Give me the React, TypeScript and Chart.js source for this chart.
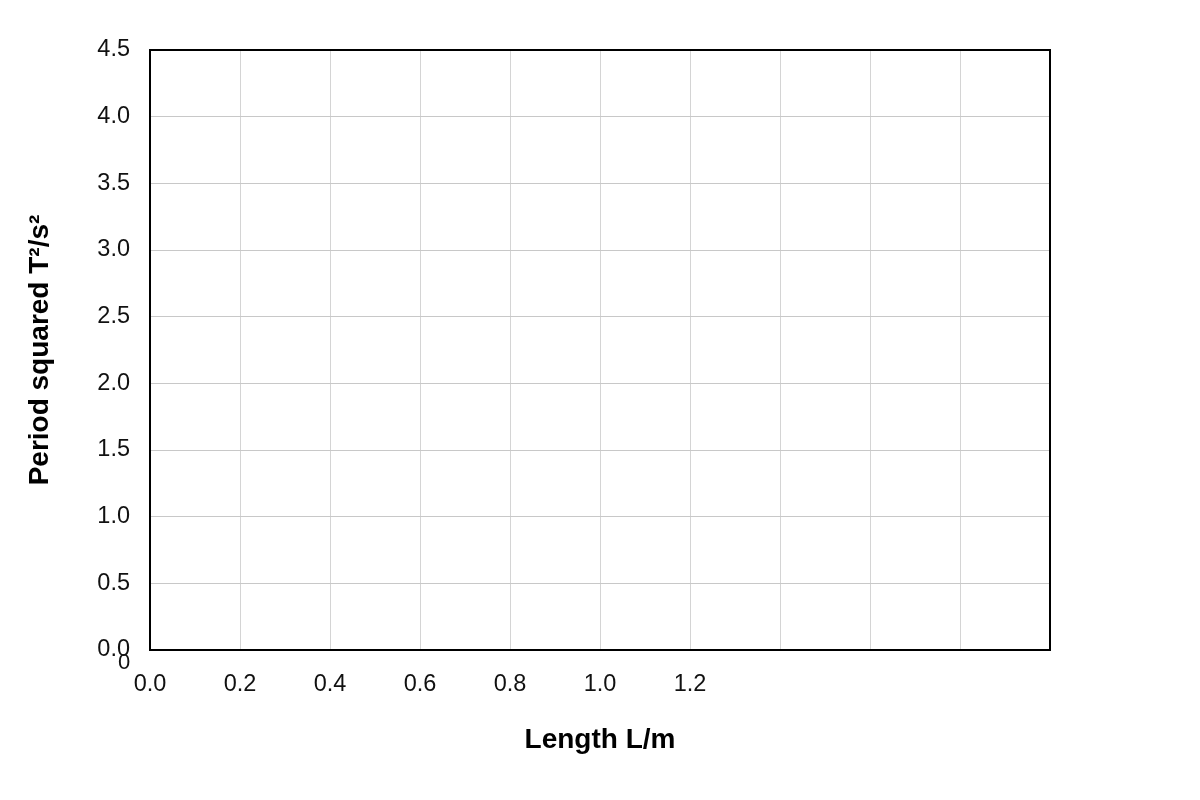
import { useEffect, useRef } from "react";
import { Chart, registerables } from "chart.js";

Chart.register(...registerables);

// axis ranges and labels
const xRange = [0, 2.0];
const xStep = 0.2;
const xTickLabels = ["0.0", "0.2", "0.4", "0.6", "0.8", "1.0", "1.2"];
const yRange = [0, 4.5];
const yStep = 0.5;
const points: { x: number; y: number }[] = [];

const FONT = '"Liberation Sans", Arial, sans-serif';

// plot frame drawn on all four sides
const framePlugin = {
  id: "frame",
  afterDraw(chart: Chart) {
    const { ctx, chartArea } = chart;
    ctx.save();
    ctx.strokeStyle = "#000";
    ctx.lineWidth = 2;
    ctx.strokeRect(chartArea.left, chartArea.top, chartArea.right - chartArea.left, chartArea.bottom - chartArea.top);
    ctx.restore();
  },
};

const App = () => {
  const canvasRef = useRef<HTMLCanvasElement>(null);

  useEffect(() => {
    if (!canvasRef.current) return;
    const chart = new Chart(canvasRef.current, {
      type: "scatter",
      data: {
        datasets: [{ label: "T²", data: points, backgroundColor: "#000" }],
      },
      options: {
        animation: false,
        responsive: false,
        layout: { padding: { left: 0, top: 50, right: 150, bottom: 0 } },
        plugins: { legend: { display: false }, tooltip: { enabled: false } },
        scales: {
          x: {
            type: "linear",
            min: xRange[0],
            max: xRange[1],
            afterFit: (scale: any) => {
              scale.height = 150;
            },
            afterBuildTicks: (scale: any) => {
              const ticks = [];
              for (let i = 0; i <= Math.round((xRange[1] - xRange[0]) / xStep); i++) {
                ticks.push({ value: xRange[0] + i * xStep });
              }
              scale.ticks = ticks;
            },
            grid: { color: "#d4d4d4", lineWidth: 1, drawTicks: false },
            border: { display: false },
            ticks: {
              padding: 20,
              maxRotation: 0,
              autoSkip: false,
              color: "#111",
              font: { family: FONT, size: 23.5 },
              callback: (_v: any, i: number) => xTickLabels[i] ?? "",
            },
            title: {
              display: true,
              text: "Length L/m",
              color: "#000",
              padding: { top: 43, bottom: 43 },
              font: { family: FONT, size: 28, weight: "bold" },
            },
          },
          y: {
            type: "linear",
            min: yRange[0],
            max: yRange[1],
            afterFit: (scale: any) => {
              scale.width = 150;
            },
            grid: { color: "#c8c8c8", lineWidth: 1, drawTicks: false },
            border: { display: false },
            ticks: {
              stepSize: yStep,
              padding: 20,
              color: "#111",
              font: { family: FONT, size: 23.5 },
              callback: (v: any) => Number(v).toFixed(1),
            },
            title: {
              display: true,
              text: "Period squared T²/s²",
              color: "#000",
              padding: { top: 23, bottom: 23 },
              font: { family: FONT, size: 28, weight: "bold" },
            },
          },
        },
      },
      plugins: [framePlugin],
    });
    return () => chart.destroy();
  }, []);

  return (
    <div style={{ position: "absolute", left: 0, top: 0, width: 1200, height: 800, background: "#fff" }}>
      <canvas ref={canvasRef} width={1200} height={800} style={{ width: 1200, height: 800 }}></canvas>
      <span
        style={{
          position: "absolute",
          left: 118,
          top: 650,
          fontFamily: FONT,
          fontSize: 22,
          lineHeight: "24px",
          color: "#111",
        }}
      >
        0
      </span>
    </div>
  );
};

export default App;
